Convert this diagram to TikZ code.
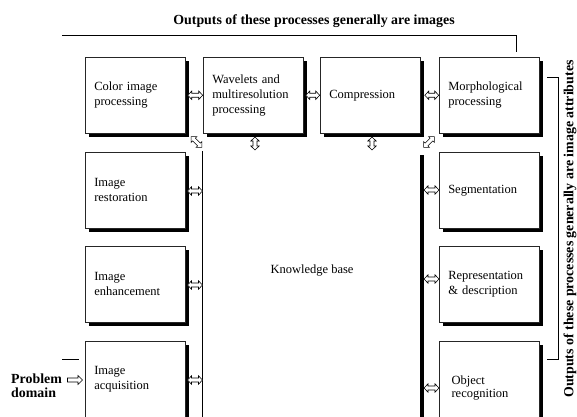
\documentclass[tikz,border=0pt]{standalone}
\usepackage{fontspec}
\setmainfont{Liberation Serif}
\usetikzlibrary{shadows,calc}
\begin{document}
\begin{tikzpicture}[x=1pt,y=-1pt,
  box/.style={draw=black!85, line width=0.5pt, fill=white, rectangle,
    minimum width=100pt, minimum height=76pt, text width=82pt,
    inner xsep=9pt, inner ysep=0pt, align=left, anchor=north west,
    font=\fontsize{12.5}{15}\selectfont,
    drop shadow={shadow xshift=3.5pt, shadow yshift=-3.5pt, fill=black, opacity=1}},
  pics/dbl/.style={code={
    \draw[line width=0.55pt, fill=white, line join=miter]
      (-#1,0) -- (-#1+4,-4.2) -- (-#1+4,-2) -- (#1-4,-2) -- (#1-4,-4.2)
      -- (#1,0) -- (#1-4,4.2) -- (#1-4,2) -- (-#1+4,2) -- (-#1+4,4.2) -- cycle;}},
  pics/sgl/.style={code={
    \draw[line width=0.55pt, fill=white, line join=miter]
      (-#1,-2) -- (#1-4.5,-2) -- (#1-4.5,-4.5) -- (#1,0) -- (#1-4.5,4.5)
      -- (#1-4.5,2) -- (-#1,2) -- cycle;}},
  lbl/.style={font=\fontsize{13.9}{14}\selectfont\bfseries},
  kbtext/.style={font=\fontsize{12.5}{15}\selectfont},
  rule/.style={line width=1pt}
]
\useasboundingbox (0,0) rectangle (577,416);
\clip (0,0) rectangle (577,416);

% knowledge base edges
\coordinate (kbl) at (202.5,151);
\coordinate (kblb) at (202.5,420);
\draw[line width=0.7pt] (kbl) -- (kblb);
\fill[black] (419.5,155) rectangle (424,420);
\node[kbtext] (kb) at (312,271) {Knowledge base};

% top row
\node[box] (color) at (85,57) {Color image\\processing};
\node[box] (wave) at (203,57) {Wavelets and\\multiresolution\\processing};
\node[box] (comp) at (320,57) {Compression};
\node[box] (morph) at (439,57) {Morphological\\processing};

% left column
\node[box] (rest) at (85,152) {Image\\restoration};
\node[box] (enh) at (85,246) {Image\\enhancement};
\node[box] (acq) at (85,341) {Image\\acquisition};

% right column
\node[box] (seg) at (439,152) {Segmentation};
\node[box] (rep) at (439,246) {Representation\\\& description};
\node[box] (obj) at (439,341) {};
\node[anchor=west, align=left, font=\fontsize{12.5}{13.5}\selectfont] (objt) at (448,388) {Object\\recognition};

% arrows between top-row boxes
\pic (a1) at ($(color.east)!0.5!(wave.west)+(1,0)$) {dbl=7.5};
\pic (a2) at ($(wave.east)!0.5!(comp.west)+(1,0)$) {dbl=7};
\pic (a3) at ($(comp.east)!0.5!(morph.west)+(2,0)$) {dbl=7};

% arrows from top row to knowledge base
\pic[rotate=90] (v1) at (255,143.5) {dbl=6.5};
\pic[rotate=90] (v2) at (372,143.5) {dbl=6.5};
\pic[rotate=-45] (d1) at (196.5,142) {dbl=7.5};
\pic[rotate=45] (d2) at (429,142) {dbl=7.5};

% left column arrows
\pic (l1) at (195,191) {dbl=7.5};
\pic (l2) at (195,285) {dbl=7.5};
\pic (l3) at (195,380) {dbl=7.5};

% right column arrows
\pic (r1) at (431.5,190) {dbl=7.5};
\pic (r2) at (431.5,279) {dbl=7.5};
\pic (r3) at (431.5,388) {dbl=7.5};

% top label and rule
\node[lbl] (title) at (314,21) {Outputs of these processes generally are images};
\coordinate (t1) at (62,35);
\coordinate (t2) at (516,35);
\coordinate (t3) at (516,52);
\draw[rule] (t1) -- (t2) -- (t3);

% right bracket and label
\coordinate (b1) at (547,77);
\coordinate (b2) at (558,77);
\coordinate (b3) at (558,359);
\coordinate (b4) at (547,359);
\draw[rule] (b1) -- (b2) -- (b3) -- (b4);
\node[lbl, rotate=90] (side) at (570,229) {Outputs of these processes generally are image attributes};

% problem domain
\node[lbl, align=left, anchor=west, inner xsep=0pt] (pd) at (11,386) {Problem\\domain};
\pic (pa) at (75,380) {sgl=7.5};
\coordinate (s1) at (62,359);
\coordinate (s2) at (79,359);
\draw[rule] (s1) -- (s2);
\end{tikzpicture}
\end{document}
